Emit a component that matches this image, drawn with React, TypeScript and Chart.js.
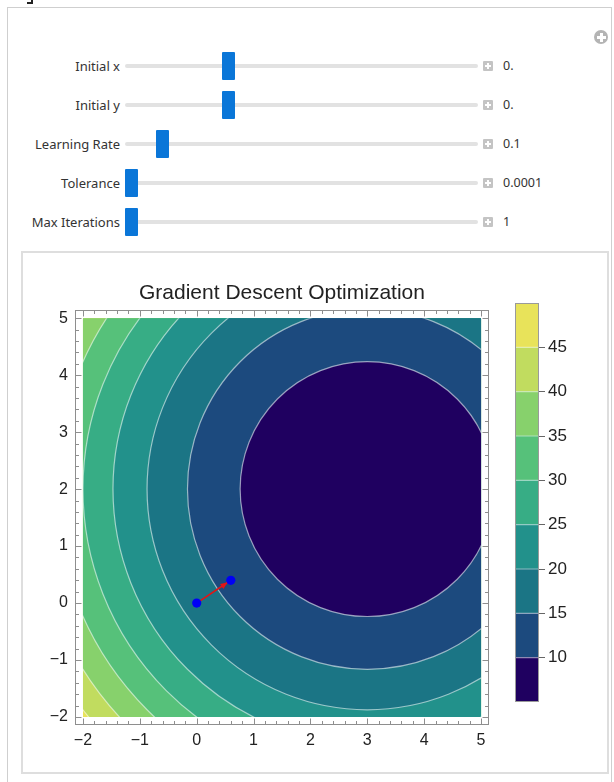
import React, { useEffect, useRef } from "react";
import { Chart, registerables } from "chart.js";
Chart.register(...registerables);

// ---------- data ----------
const xDomain = [-2, 5];
const yDomain = [-2, 5];
const axisTicks = [-2, -1, 0, 1, 2, 3, 4, 5];
const minorStep = 0.2;
const bowlCenter = [3, 2]; // minimum of f(x,y) = (x-3)^2 + (y-2)^2 + 5
const bowlMinimum = 5;
const contourLevels = [10, 15, 20, 25, 30, 35, 40, 45];
const bandColors = ["#1f0060", "#1c4a7e", "#1b7585", "#22918b", "#37ad85", "#56c17a", "#87d16c", "#c1dc5f", "#e8e35a"];
const colorbarRange = [5, 50];
const colorbarTicks = [10, 15, 20, 25, 30, 35, 40, 45];
const pathX = [0, 0.6];
const pathY = [0, 0.4];
const sliderLabels = ["Initial x", "Initial y", "Learning Rate", "Tolerance", "Max Iterations"];
const sliderValues = [0, 0, 0.1, 0.0001, 1];
const sliderTexts = ["0.", "0.", "0.1", "0.0001", "1"];
const sliderMins = [-2, -2, 0.01, 0.0001, 1];
const sliderMaxs = [5, 5, 1, 0.01, 100];

const FONT = "'Liberation Sans', Arial, sans-serif";
const UIFONT = "'Noto Sans', 'Open Sans', sans-serif";

const fmt = (v: number) => (v < 0 ? "\u2212" + Math.abs(v) : String(v));

const contourPlugin = {
  id: "contour",
  beforeDatasetsDraw(chart: any) {
    const { ctx } = chart;
    const xs = chart.scales.x, ys = chart.scales.y;
    const x0 = xs.getPixelForValue(xDomain[0]);
    const x1 = xs.getPixelForValue(xDomain[1]);
    const y0 = ys.getPixelForValue(yDomain[0]);
    const y1 = ys.getPixelForValue(yDomain[1]);
    ctx.save();
    ctx.beginPath();
    ctx.rect(x0, y1, x1 - x0, y0 - y1);
    ctx.clip();
    ctx.fillStyle = bandColors[bandColors.length - 1];
    ctx.fillRect(x0, y1, x1 - x0, y0 - y1);
    const cx = xs.getPixelForValue(bowlCenter[0]);
    const cy = ys.getPixelForValue(bowlCenter[1]);
    const ell = (lvl: number) => {
      const r = Math.sqrt(lvl - bowlMinimum);
      const rx = xs.getPixelForValue(bowlCenter[0] + r) - cx;
      const ry = cy - ys.getPixelForValue(bowlCenter[1] + r);
      ctx.beginPath();
      ctx.ellipse(cx, cy, rx, ry, 0, 0, Math.PI * 2);
    };
    for (let i = contourLevels.length - 1; i >= 0; i--) {
      ell(contourLevels[i]);
      ctx.fillStyle = bandColors[i];
      ctx.fill();
    }
    ctx.strokeStyle = "rgba(255,255,255,0.55)";
    ctx.lineWidth = 1.2;
    for (let i = 0; i < contourLevels.length; i++) {
      ell(contourLevels[i]);
      ctx.stroke();
    }
    ctx.restore();
  },
  afterDatasetDraw(chart: any, args: any) {
    if (args.index !== 1) return;
    const meta = chart.getDatasetMeta(1);
    const p0 = meta.data[0], p1 = meta.data[1];
    const ang = Math.atan2(p1.y - p0.y, p1.x - p0.x);
    const tipX = p1.x - Math.cos(ang) * 4;
    const tipY = p1.y - Math.sin(ang) * 4;
    const len = 7, half = 3;
    const { ctx } = chart;
    ctx.save();
    ctx.fillStyle = "#e41414";
    ctx.beginPath();
    ctx.moveTo(tipX, tipY);
    ctx.lineTo(tipX - Math.cos(ang) * len - Math.sin(ang) * half, tipY - Math.sin(ang) * len + Math.cos(ang) * half);
    ctx.lineTo(tipX - Math.cos(ang) * len + Math.sin(ang) * half, tipY - Math.sin(ang) * len - Math.cos(ang) * half);
    ctx.closePath();
    ctx.fill();
    ctx.restore();
  },
};

const framePlugin = {
  id: "frame",
  afterDatasetsDraw(chart: any) {
    const { ctx, chartArea: a } = chart;
    const xs = chart.scales.x, ys = chart.scales.y;
    ctx.save();
    ctx.strokeStyle = "#8e8e8e";
    ctx.lineWidth = 1;
    const L = Math.round(a.left) + 0.5, R = Math.round(a.right) - 0.5;
    const T = Math.round(a.top) + 0.5, B = Math.round(a.bottom) - 0.5;
    ctx.strokeRect(L, T, R - L, B - T);
    ctx.beginPath();
    const n = Math.round((xDomain[1] - xDomain[0]) / minorStep);
    for (let k = 0; k <= n; k++) {
      const v = xDomain[0] + k * minorStep;
      const major = Math.abs(v - Math.round(v)) < 1e-6;
      const len = major ? 6 : 3.5;
      const px = Math.round(xs.getPixelForValue(v)) + 0.5;
      ctx.moveTo(px, B); ctx.lineTo(px, B - len);
      ctx.moveTo(px, T); ctx.lineTo(px, T + len);
    }
    const m = Math.round((yDomain[1] - yDomain[0]) / minorStep);
    for (let k = 0; k <= m; k++) {
      const v = yDomain[0] + k * minorStep;
      const major = Math.abs(v - Math.round(v)) < 1e-6;
      const len = major ? 6 : 3.5;
      const py = Math.round(ys.getPixelForValue(v)) + 0.5;
      ctx.moveTo(L, py); ctx.lineTo(L + len, py);
      ctx.moveTo(R, py); ctx.lineTo(R - len, py);
    }
    ctx.stroke();
    ctx.restore();
  },
};

const colorbarPlugin = {
  id: "cbframe",
  afterDatasetsDraw(chart: any) {
    const { ctx, chartArea: a } = chart;
    const ys = chart.scales.y;
    ctx.save();
    ctx.strokeStyle = "rgba(255,255,255,0.5)";
    ctx.lineWidth = 1.2;
    ctx.beginPath();
    contourLevels.forEach((lv) => {
      const py = ys.getPixelForValue(lv);
      ctx.moveTo(a.left, py); ctx.lineTo(a.right, py);
    });
    ctx.stroke();
    ctx.strokeStyle = "#9a9a9a";
    ctx.lineWidth = 1;
    ctx.strokeRect(Math.round(a.left) + 0.5, Math.round(a.top) + 0.5, Math.round(a.right - a.left) - 1, Math.round(a.bottom - a.top) - 1);
    ctx.restore();
  },
};

function MainPlot() {
  const ref = useRef<HTMLCanvasElement>(null);
  useEffect(() => {
    const pts = pathX.map((x, i) => ({ x, y: pathY[i] }));
    const pad = 0.02 * (xDomain[1] - xDomain[0]);
    const chart = new Chart(ref.current!, {
      type: "scatter",
      data: {
        datasets: [
          { label: "points", data: pts, showLine: false, pointRadius: 4.6, pointBackgroundColor: "#0000f5", pointBorderWidth: 0, order: 0 } as any,
          { label: "path", data: pts, showLine: true, borderColor: "#e41414", borderWidth: 1.6, pointRadius: 0, order: 1 } as any,
        ],
      },
      options: {
        animation: false,
        responsive: false,
        devicePixelRatio: 1,
        layout: { padding: { left: 0, right: 16, top: 0, bottom: 0 } },
        plugins: {
          legend: { display: false },
          tooltip: { enabled: false },
          title: {
            display: true,
            text: "Gradient Descent Optimization",
            fullSize: false,
            color: "#222",
            font: { family: FONT, size: 21, weight: "normal" },
            padding: { top: 27, bottom: 4 },
          },
        },
        scales: {
          x: {
            type: "linear",
            min: xDomain[0] - pad,
            max: xDomain[1] + pad,
            grid: { display: false, drawTicks: false },
            border: { display: false },
            afterBuildTicks: (s: any) => { s.ticks = axisTicks.map((v) => ({ value: v })); },
            afterFit: (s: any) => { s.height = 45; },
            ticks: { callback: (v: any) => fmt(Number(v)), color: "#222", font: { family: FONT, size: 16 }, padding: 6, maxRotation: 0, autoSkip: false },
          },
          y: {
            type: "linear",
            min: yDomain[0] - pad,
            max: yDomain[1] + pad,
            grid: { display: false, drawTicks: false },
            border: { display: false },
            afterBuildTicks: (s: any) => { s.ticks = axisTicks.map((v) => ({ value: v })); },
            afterFit: (s: any) => { s.width = 51; },
            ticks: { callback: (v: any) => fmt(Number(v)), color: "#222", font: { family: FONT, size: 16 }, padding: 7, autoSkip: false },
          },
        },
      } as any,
      plugins: [contourPlugin, framePlugin],
    });
    return () => chart.destroy();
  }, []);
  return <canvas ref={ref} width={481} height={516} style={{ position: "absolute", left: 24, top: 254, width: 481, height: 516 }} />;
}

function ColorBar() {
  const ref = useRef<HTMLCanvasElement>(null);
  useEffect(() => {
    const edges = [colorbarRange[0], ...contourLevels, colorbarRange[1]];
    const chart = new Chart(ref.current!, {
      type: "bar",
      data: {
        labels: [""],
        datasets: bandColors.map((c, i) => ({
          data: [[edges[i], edges[i + 1]]],
          backgroundColor: c,
          borderWidth: 0,
          grouped: false,
          barPercentage: 1,
          categoryPercentage: 1,
        })) as any,
      },
      options: {
        animation: false,
        responsive: false,
        devicePixelRatio: 1,
        layout: { padding: { left: 10, right: 0, top: 49, bottom: 68 } },
        plugins: { legend: { display: false }, tooltip: { enabled: false } },
        scales: {
          x: { display: false },
          y: {
            position: "right",
            min: colorbarRange[0],
            max: colorbarRange[1],
            grid: { display: true, drawOnChartArea: false, drawTicks: true, tickLength: 6, tickColor: "#666", color: "#666" },
            border: { display: false },
            afterBuildTicks: (s: any) => { s.ticks = colorbarTicks.map((v) => ({ value: v })); },
            afterFit: (s: any) => { s.width = 67; },
            ticks: { color: "#222", font: { family: FONT, size: 17 }, padding: 3, autoSkip: false },
          },
        },
      } as any,
      plugins: [colorbarPlugin],
    });
    return () => chart.destroy();
  }, []);
  return <canvas ref={ref} width={101} height={516} style={{ position: "absolute", left: 505, top: 254, width: 101, height: 516 }} />;
}

function PlusBox({ left, top, size, round }: { left: number; top: number; size: number; round?: boolean }) {
  const bar = Math.max(2, Math.round(size * 0.22));
  const arm = Math.round(size * 0.62);
  return (
    <div style={{ position: "absolute", left, top, width: size, height: size, background: round ? "#b4b4b4" : "#c4c4c4", borderRadius: round ? "50%" : 1 }}>
      <div style={{ position: "absolute", left: (size - arm) / 2, top: (size - bar) / 2, width: arm, height: bar, background: "#fff" }} />
      <div style={{ position: "absolute", left: (size - bar) / 2, top: (size - arm) / 2, width: bar, height: arm, background: "#fff" }} />
    </div>
  );
}

function Slider({ i }: { i: number }) {
  const y = 66 + i * 39;
  const frac = (sliderValues[i] - sliderMins[i]) / (sliderMaxs[i] - sliderMins[i]);
  const trackL = 125, trackW = 353, thumbW = 13;
  return (
    <>
      <div style={{ position: "absolute", left: 0, width: 120, top: y - 10, height: 20, lineHeight: "20px", textAlign: "right", fontSize: 13, fontFamily: UIFONT, color: "#333", whiteSpace: "nowrap" }}>{sliderLabels[i]}</div>
      <div style={{ position: "absolute", left: trackL, width: trackW, top: y - 2, height: 4, background: "#e2e2e2", borderRadius: 2 }} />
      <div style={{ position: "absolute", left: trackL + frac * (trackW - thumbW), width: thumbW, top: y - 14, height: 28, background: "#0a76d8", borderRadius: 1 }} />
      <PlusBox left={483} top={y - 5} size={10} />
      <div style={{ position: "absolute", left: 503, top: y - 10, height: 20, lineHeight: "20px", fontSize: 12.5, fontFamily: UIFONT, color: "#333", whiteSpace: "nowrap" }}>{sliderTexts[i]}</div>
    </>
  );
}

export default function App() {
  return (
    <div style={{ position: "absolute", left: 0, top: 0, width: 614, height: 782, overflow: "hidden", background: "#fff" }}>
      <div style={{ position: "absolute", left: 27, top: 0, width: 4, height: 2, borderRight: "2px solid #222", borderBottom: "2px solid #222" }} />
      <div style={{ position: "absolute", left: 7, top: 7, width: 603, height: 800, border: "1px solid #cfcfcf" }} />
      <PlusBox left={594} top={30} size={14} round />
      {sliderLabels.map((_, i) => <Slider key={i} i={i} />)}
      <div style={{ position: "absolute", left: 21, top: 251, width: 584, height: 519, border: "2px solid #dedede" }} />
      <MainPlot />
      <ColorBar />
    </div>
  );
}
